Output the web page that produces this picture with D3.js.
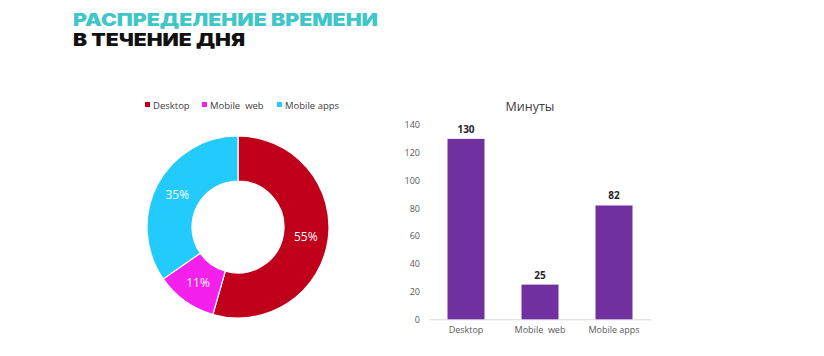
<!DOCTYPE html>
<html><head><meta charset="utf-8">
<script src="https://cdn.jsdelivr.net/npm/d3@7"></script>
<style>body{margin:0;background:#fff;}svg{display:block;}</style>
</head><body>
<svg id="c" width="824" height="356"></svg>
<script>
const titleLines = ["РАСПРЕДЕЛЕНИЕ ВРЕМЕНИ", "В ТЕЧЕНИЕ ДНЯ"];
const categories = ["Desktop", "Mobile  web", "Mobile apps"];
const sharePercent = [55, 11, 35];
const minutes = [130, 25, 82];
const barTitle = "Минуты";
const yTicks = [0, 20, 40, 60, 80, 100, 120, 140];
const pieColors = ["#C0001A", "#F520EC", "#22CBFB"];
const barColor = "#7030A0";

const svg = d3.select("#c");
const font = "'Open Sans', 'Noto Sans', sans-serif";

// Title
svg.append("text").attr("x", 73).attr("y", 26).text(titleLines[0])
  .attr("font-family", "Inter, Lato, sans-serif").attr("font-weight", 900)
  .attr("font-size", 17.5).attr("fill", "#3EC6C8").attr("textLength", 305).attr("lengthAdjust","spacingAndGlyphs");
svg.append("text").attr("x", 73).attr("y", 46).text(titleLines[1])
  .attr("font-family", "Inter, Lato, sans-serif").attr("font-weight", 900)
  .attr("font-size", 17.5).attr("fill", "#111").attr("textLength", 172).attr("lengthAdjust","spacingAndGlyphs");

// Donut
const cx = 238, cy = 227, rOut = 91, rIn = 46;
const pie = d3.pie().sort(null).value(d => d)(sharePercent);
const arc = d3.arc().innerRadius(rIn).outerRadius(rOut);
const g = svg.append("g").attr("transform", `translate(${cx},${cy})`);
g.selectAll("path").data(pie).join("path")
  .attr("d", arc).attr("fill", (d, i) => pieColors[i])
  .attr("stroke", "#fff").attr("stroke-width", 1.2);
g.selectAll("text.lbl").data(pie).join("text").attr("class","lbl")
  .attr("transform", d => { const c = arc.centroid(d); return `translate(${c[0]},${c[1]})`; })
  .attr("text-anchor", "middle").attr("dy", "0.35em")
  .attr("font-family", font).attr("font-size", 12).attr("fill", "#fff")
  .text(d => d.data + "%");

// Legend
const legX = [145, 202, 277];
const leg = svg.append("g");
categories.forEach((c, i) => {
  leg.append("rect").attr("x", legX[i]).attr("y", 102).attr("width", 5).attr("height", 5).attr("fill", pieColors[i]);
  leg.append("text").attr("x", legX[i] + 8).attr("y", 108.5).text(c)
    .attr("font-family", font).attr("font-size", 9.5).attr("fill", "#404040")
    .style("white-space", "pre");
});

// Bar chart
const x = d3.scaleBand().domain(categories).range([429, 651]).paddingInner(0.5).paddingOuter(0.25);
const y = d3.scaleLinear().domain([0, 140]).range([319.3, 125]);

svg.append("text").attr("x", 530).attr("y", 111).attr("text-anchor", "middle")
  .attr("font-family", font).attr("font-size", 12.5).attr("fill", "#404040").text(barTitle);

const yAxis = svg.append("g").attr("transform", "translate(429,0)")
  .call(d3.axisLeft(y).tickValues(yTicks).tickSize(0).tickPadding(9));
yAxis.select(".domain").remove();
yAxis.selectAll("text").attr("font-family", font).attr("font-size", 9).attr("fill", "#595959");

const xAxis = svg.append("g").attr("transform", "translate(0,319.3)")
  .call(d3.axisBottom(x).tickSize(0).tickPadding(7));
xAxis.select(".domain").attr("stroke", "#d9d9d9");
xAxis.selectAll("text").attr("font-family", font).attr("font-size", 9).attr("fill", "#595959")
  .style("white-space", "pre");

svg.selectAll("rect.bar").data(minutes).join("rect").attr("class","bar")
  .attr("x", (d, i) => x(categories[i])).attr("width", x.bandwidth())
  .attr("y", d => y(d)).attr("height", d => y(0) - y(d)).attr("fill", barColor);

svg.selectAll("text.val").data(minutes).join("text").attr("class","val")
  .attr("x", (d, i) => x(categories[i]) + x.bandwidth() / 2).attr("y", d => y(d) - 6)
  .attr("text-anchor", "middle").attr("font-family", font).attr("font-weight", 700)
  .attr("font-size", 10).attr("fill", "#262626").text(d => d);
</script>
</body></html>
